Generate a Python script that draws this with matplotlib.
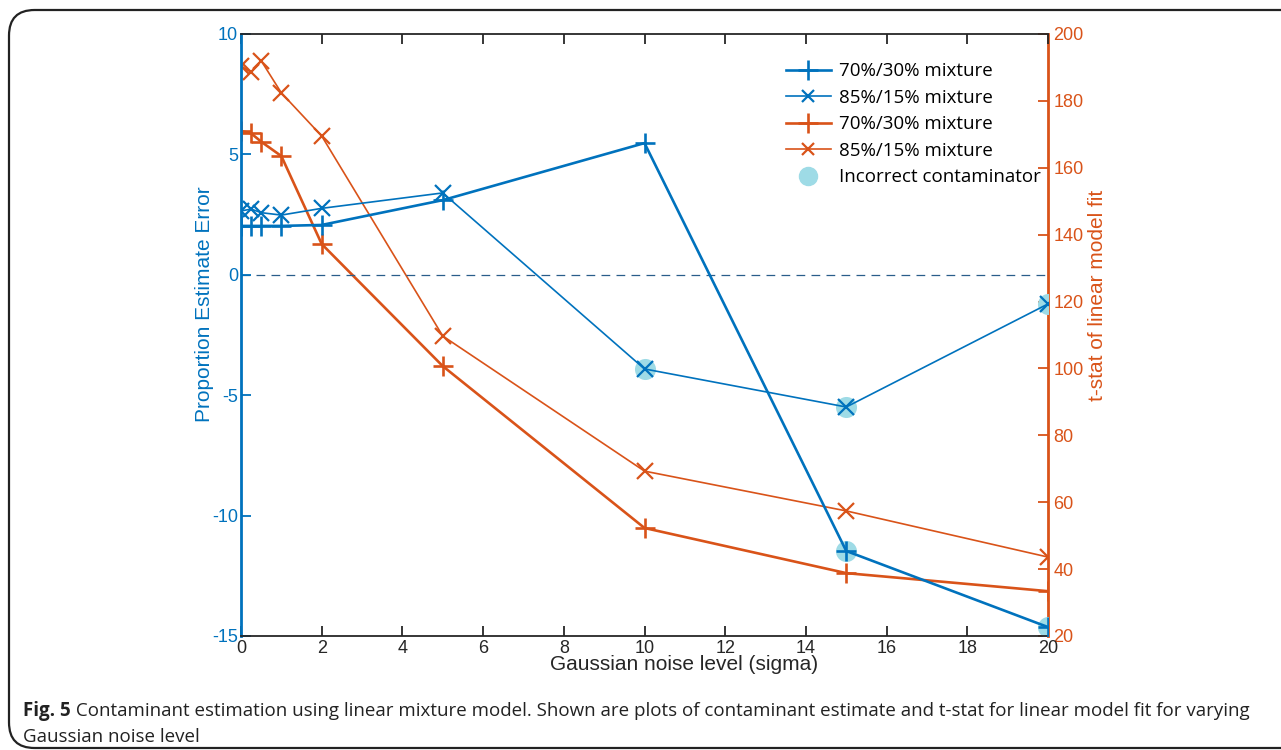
import matplotlib
matplotlib.use("Agg")
import matplotlib.pyplot as plt
from matplotlib.patches import FancyBboxPatch
from matplotlib.lines import Line2D

plt.rcParams["axes.unicode_minus"] = False

noise = [0, 0.25, 0.5, 1, 2, 5, 10, 15, 20]
err_70 = [2.03, 2.03, 2.03, 2.03, 2.07, 3.1, 5.47, -11.47, -14.63]
err_85 = [2.65, 2.73, 2.58, 2.48, 2.76, 3.40, -3.91, -5.49, -1.21]
tstat_70 = [171.0, 170.3, 167.8, 163.5, 137.2, 100.7, 52.3, 38.8, 33.4]
tstat_85 = [190.5, 188.5, 192.0, 182.4, 169.5, 109.7, 69.3, 57.4, 43.6]
wrong_x = [10, 15, 20, 15, 20]
wrong_y = [-3.91, -5.49, -1.21, -11.47, -14.63]
legend_labels = ["70%/30% mixture", "85%/15% mixture", "70%/30% mixture", "85%/15% mixture", "Incorrect contaminator"]
caption_bold = "Fig. 5"
caption_rest = " Contaminant estimation using linear mixture model. Shown are plots of contaminant estimate and t-stat for linear model fit for varying"
caption_line2 = "Gaussian noise level"

BLUE = "#0072BD"
ORANGE = "#D95319"
CYAN = "#9edbe6"
W, H = 1281, 750

fig = plt.figure(figsize=(12.81, 7.5), dpi=100)
ax = fig.add_axes([241 / W, 1 - 636 / H, (1048 - 241) / W, (636 - 34) / H])
ax2 = ax.twinx()

tickfont = "Liberation Sans"
textfont = "Open Sans"

ax.set_xlim(0, 20)
ax.set_ylim(-15, 10)
ax2.set_ylim(20, 200)

ax.axhline(0, color="#2a5d8a", lw=0.9, ls=(0, (7, 5)), zorder=1)

ax.scatter(wrong_x, wrong_y, s=230, color=CYAN, zorder=2, linewidths=0)
ax.plot(noise, err_70, color=BLUE, lw=1.9, marker="+", ms=15, mew=1.9, zorder=4)
ax.plot(noise, err_85, color=BLUE, lw=1.2, marker="x", ms=11, mew=1.6, zorder=4)
ax2.plot(noise, tstat_70, color=ORANGE, lw=1.9, marker="+", ms=15, mew=1.9, zorder=3)
ax2.plot(noise, tstat_85, color=ORANGE, lw=1.2, marker="x", ms=11, mew=1.6, zorder=3)
ax.set_zorder(ax2.get_zorder() + 1)
ax.patch.set_visible(False)

ax.set_xticks(range(0, 21, 2))
ax.set_yticks([-15, -10, -5, 0, 5, 10])
ax2.set_yticks(range(20, 201, 20))

for a in (ax, ax2):
    for s in a.spines.values():
        s.set_linewidth(1.3)
ax.spines["top"].set_color("#262626")
ax.spines["bottom"].set_color("#262626")
ax.spines["left"].set_color(BLUE)
ax.spines["right"].set_visible(False)
ax2.spines["left"].set_visible(False)
ax2.spines["top"].set_visible(False)
ax2.spines["bottom"].set_visible(False)
ax2.spines["right"].set_color(ORANGE)
ax2.spines["right"].set_linewidth(2)
ax.spines["left"].set_linewidth(2)

ax.tick_params(axis="x", direction="in", top=True, length=7, width=1.3, colors="#262626",
               labelsize=13, pad=3)
ax.tick_params(axis="y", direction="in", length=7, width=1.3, colors=BLUE, labelsize=13, pad=2)
ax2.tick_params(axis="y", direction="in", length=7, width=1.3, colors=ORANGE, labelsize=13, pad=4)
for lab in ax.get_xticklabels() + ax.get_yticklabels() + ax2.get_yticklabels():
    lab.set_fontfamily(tickfont)

ax.set_xlabel("Gaussian noise level (sigma)", fontsize=15, family=tickfont, color="#262626")
ax.xaxis.set_label_coords(0.549, -0.032)
ax.set_ylabel("Proportion Estimate Error", fontsize=15, family=tickfont, color=BLUE)
ax.yaxis.set_label_coords(-0.033, 0.551)
ax2.set_ylabel("t-stat of linear model fit", fontsize=15, family=tickfont, color=ORANGE)
ax2.yaxis.set_label_coords(1.0496, 0.565)

handles = [
    Line2D([], [], color=BLUE, lw=1.9, marker="+", ms=15, mew=1.9),
    Line2D([], [], color=BLUE, lw=1.2, marker="x", ms=9, mew=1.6),
    Line2D([], [], color=ORANGE, lw=1.9, marker="+", ms=15, mew=1.9),
    Line2D([], [], color=ORANGE, lw=1.2, marker="x", ms=9, mew=1.6),
    Line2D([], [], color=CYAN, lw=0, marker="o", ms=13),
]
leg = ax.legend(handles, legend_labels, loc="upper left", bbox_to_anchor=(778 / W, 1 - 55 / H),
                bbox_transform=fig.transFigure, frameon=False, prop={"family": textfont, "size": 13.5},
                handlelength=2.4, handletextpad=0.45, labelspacing=0.45, borderaxespad=0)

fig.patches.append(FancyBboxPatch((9 / W, 2 / H), (W + 30) / W, (740 - 2) / H,
                                  boxstyle="round,pad=0,rounding_size=0.02",
                                  transform=fig.transFigure, fill=False, ec="#222222", lw=1.6,
                                  mutation_aspect=W / H))

t1 = fig.text(23 / W, 1 - 716 / H, caption_bold, fontsize=13.5, family=textfont, weight="bold",
              color="#222222", va="baseline")
fig.canvas.draw()
bb = t1.get_window_extent()
fig.text(bb.x1 / W, 1 - 716 / H, caption_rest, fontsize=13.5, family=textfont,
         color="#222222", va="baseline")
fig.text(23 / W, 1 - 742 / H, caption_line2, fontsize=13.5, family=textfont,
         color="#222222", va="baseline")

fig.savefig("out.png", dpi=100)
